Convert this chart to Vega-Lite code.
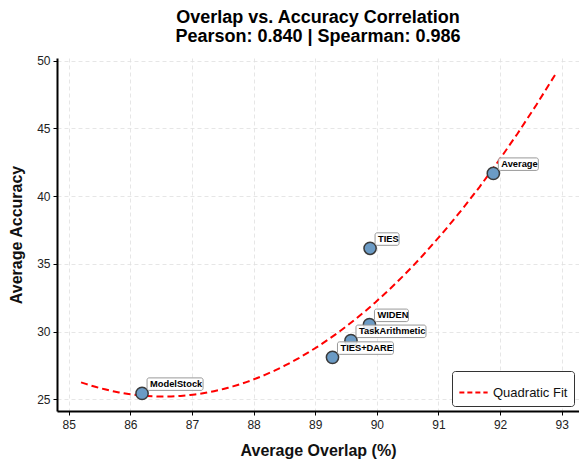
{
  "$schema": "https://vega.github.io/schema/vega-lite/v6.json",
  "width": 522,
  "height": 353,
  "autosize": {"type": "none"},
  "padding": {"left": 57, "top": 58, "right": 0, "bottom": 50},
  "background": "white",
  "config": {
    "font": "Liberation Sans",
    "view": {"stroke": null},
    "axis": {
      "domainColor": "black",
      "domainWidth": 2,
      "tickColor": "black",
      "tickSize": 4,
      "tickWidth": 1,
      "labelFontSize": 12,
      "labelColor": "#222",
      "labelFont": "Liberation Sans",
      "titleFont": "Liberation Sans",
      "titleFontSize": 16,
      "titleFontWeight": "bold",
      "titleColor": "#111",
      "gridColor": "#e0e0e0",
      "gridDash": [4, 3],
      "gridWidth": 0.8
    }
  },
  "title": {
    "text": ["Overlap vs. Accuracy Correlation", "Pearson: 0.840 | Spearman: 0.986"],
    "fontSize": 18,
    "fontWeight": "bold",
    "font": "Liberation Sans",
    "anchor": "middle",
    "lineHeight": 19,
    "offset": 9,
    "color": "black"
  },
  "data": {
    "values": [
      {"model": "ModelStock", "overlap": 86.19, "acc": 25.44},
      {"model": "TIES+DARE", "overlap": 89.28, "acc": 28.10},
      {"model": "TaskArithmetic", "overlap": 89.58, "acc": 29.34},
      {"model": "WIDEN", "overlap": 89.88, "acc": 30.52},
      {"model": "TIES", "overlap": 89.89, "acc": 36.15},
      {"model": "Average", "overlap": 91.89, "acc": 41.68}
    ]
  },
  "encoding": {
    "x": {
      "field": "overlap",
      "type": "quantitative",
      "scale": {"domain": [84.81, 93.28], "nice": false, "zero": false},
      "axis": {"title": "Average Overlap (%)", "values": [85, 86, 87, 88, 89, 90, 91, 92, 93], "titlePadding": 12, "labelPadding": 4}
    },
    "y": {
      "field": "acc",
      "type": "quantitative",
      "scale": {"domain": [24.14, 50.2], "nice": false, "zero": false},
      "axis": {"title": "Average Accuracy", "values": [25, 30, 35, 40, 45, 50], "titlePadding": 12, "labelPadding": 3}
    }
  },
  "layer": [
    {
      "transform": [
        {"regression": "acc", "on": "overlap", "method": "poly", "order": 2, "extent": [85.2, 92.9]}
      ],
      "mark": {"type": "line", "strokeWidth": 2, "strokeDash": [7, 4]},
      "encoding": {
        "color": {
          "datum": "Quadratic Fit",
          "type": "nominal",
          "scale": {"range": ["#ff0000"]},
          "legend": {
            "title": null,
            "orient": "bottom-right",
            "offset": 5,
            "symbolType": "stroke",
            "symbolDash": [5, 3],
            "symbolStrokeWidth": 2,
            "symbolSize": 800,
            "labelFontSize": 13,
            "labelFont": "Liberation Sans",
            "labelColor": "#111",
            "padding": 6,
            "strokeColor": "#333",
            "fillColor": "white",
            "cornerRadius": 3
          }
        }
      }
    },
    {
      "mark": {"type": "point", "filled": true, "fill": "#6b9bc5", "stroke": "#3a3a3a", "strokeWidth": 1.5, "opacity": 1, "size": 150}
    },
    {
      "mark": {"type": "point", "filled": true, "fill": "white", "fillOpacity": 0.85, "stroke": "#999999", "strokeWidth": 1, "size": 4, "opacity": 1},
      "encoding": {
        "shape": {
          "field": "model",
          "type": "nominal",
          "legend": null,
          "scale": {
            "domain": ["ModelStock", "TIES+DARE", "TaskArithmetic", "WIDEN", "TIES", "Average"],
            "range": [
              "M7,-15.5H59A2,2,0,0,1,61,-13.5V-5A2,2,0,0,1,59,-3H7A2,2,0,0,1,5,-5V-13.5A2,2,0,0,1,7,-15.5Z",
              "M7,-15.5H59A2,2,0,0,1,61,-13.5V-5A2,2,0,0,1,59,-3H7A2,2,0,0,1,5,-5V-13.5A2,2,0,0,1,7,-15.5Z",
              "M7,-15.5H73A2,2,0,0,1,75,-13.5V-5A2,2,0,0,1,73,-3H7A2,2,0,0,1,5,-5V-13.5A2,2,0,0,1,7,-15.5Z",
              "M7,-15.5H37A2,2,0,0,1,39,-13.5V-5A2,2,0,0,1,37,-3H7A2,2,0,0,1,5,-5V-13.5A2,2,0,0,1,7,-15.5Z",
              "M7,-15.5H27A2,2,0,0,1,29,-13.5V-5A2,2,0,0,1,27,-3H7A2,2,0,0,1,5,-5V-13.5A2,2,0,0,1,7,-15.5Z",
              "M7,-15.5H43A2,2,0,0,1,45,-13.5V-5A2,2,0,0,1,43,-3H7A2,2,0,0,1,5,-5V-13.5A2,2,0,0,1,7,-15.5Z"
            ]
          }
        }
      }
    },
    {
      "mark": {"type": "text", "align": "left", "baseline": "middle", "dx": 8, "dy": -9.5, "fontSize": 9.3, "fontWeight": "bold", "font": "Liberation Sans", "color": "black"},
      "encoding": {"text": {"field": "model"}}
    }
  ]
}
